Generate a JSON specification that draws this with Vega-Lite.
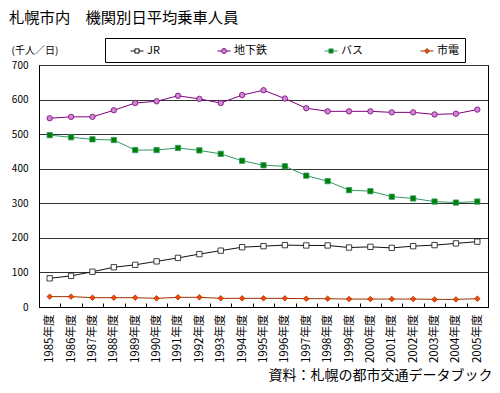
{
  "$schema": "https://vega.github.io/schema/vega-lite/v6.json",
  "width": 449,
  "height": 242,
  "autosize": {"type": "none"},
  "padding": {"left": 39, "top": 65, "right": 12, "bottom": 86},
  "background": "white",
  "title": {
    "text": "札幌市内　機関別日平均乗車人員",
    "anchor": "start",
    "frame": "group",
    "dx": -30,
    "fontSize": 15.3,
    "fontWeight": "normal",
    "font": "Noto Sans CJK JP",
    "color": "black",
    "offset": 11
  },
  "config": {
    "font": "Noto Sans CJK JP",
    "view": {"stroke": "black", "strokeWidth": 1}
  },
  "data": {
    "values": [
      {"year": "1985年度", "series": "JR", "value": 83},
      {"year": "1986年度", "series": "JR", "value": 90},
      {"year": "1987年度", "series": "JR", "value": 102},
      {"year": "1988年度", "series": "JR", "value": 115},
      {"year": "1989年度", "series": "JR", "value": 122},
      {"year": "1990年度", "series": "JR", "value": 132},
      {"year": "1991年度", "series": "JR", "value": 142},
      {"year": "1992年度", "series": "JR", "value": 153},
      {"year": "1993年度", "series": "JR", "value": 163},
      {"year": "1994年度", "series": "JR", "value": 173},
      {"year": "1995年度", "series": "JR", "value": 176},
      {"year": "1996年度", "series": "JR", "value": 179},
      {"year": "1997年度", "series": "JR", "value": 178},
      {"year": "1998年度", "series": "JR", "value": 178},
      {"year": "1999年度", "series": "JR", "value": 172},
      {"year": "2000年度", "series": "JR", "value": 174},
      {"year": "2001年度", "series": "JR", "value": 171},
      {"year": "2002年度", "series": "JR", "value": 176},
      {"year": "2003年度", "series": "JR", "value": 179},
      {"year": "2004年度", "series": "JR", "value": 184},
      {"year": "2005年度", "series": "JR", "value": 189},
      {"year": "1985年度", "series": "地下鉄", "value": 546},
      {"year": "1986年度", "series": "地下鉄", "value": 550},
      {"year": "1987年度", "series": "地下鉄", "value": 550},
      {"year": "1988年度", "series": "地下鉄", "value": 569},
      {"year": "1989年度", "series": "地下鉄", "value": 590},
      {"year": "1990年度", "series": "地下鉄", "value": 595},
      {"year": "1991年度", "series": "地下鉄", "value": 611},
      {"year": "1992年度", "series": "地下鉄", "value": 602},
      {"year": "1993年度", "series": "地下鉄", "value": 590},
      {"year": "1994年度", "series": "地下鉄", "value": 613},
      {"year": "1995年度", "series": "地下鉄", "value": 627},
      {"year": "1996年度", "series": "地下鉄", "value": 603},
      {"year": "1997年度", "series": "地下鉄", "value": 575},
      {"year": "1998年度", "series": "地下鉄", "value": 566},
      {"year": "1999年度", "series": "地下鉄", "value": 566},
      {"year": "2000年度", "series": "地下鉄", "value": 566},
      {"year": "2001年度", "series": "地下鉄", "value": 563},
      {"year": "2002年度", "series": "地下鉄", "value": 563},
      {"year": "2003年度", "series": "地下鉄", "value": 557},
      {"year": "2004年度", "series": "地下鉄", "value": 559},
      {"year": "2005年度", "series": "地下鉄", "value": 571},
      {"year": "1985年度", "series": "バス", "value": 497},
      {"year": "1986年度", "series": "バス", "value": 491},
      {"year": "1987年度", "series": "バス", "value": 485},
      {"year": "1988年度", "series": "バス", "value": 483},
      {"year": "1989年度", "series": "バス", "value": 454},
      {"year": "1990年度", "series": "バス", "value": 454},
      {"year": "1991年度", "series": "バス", "value": 460},
      {"year": "1992年度", "series": "バス", "value": 453},
      {"year": "1993年度", "series": "バス", "value": 443},
      {"year": "1994年度", "series": "バス", "value": 423},
      {"year": "1995年度", "series": "バス", "value": 410},
      {"year": "1996年度", "series": "バス", "value": 407},
      {"year": "1997年度", "series": "バス", "value": 380},
      {"year": "1998年度", "series": "バス", "value": 364},
      {"year": "1999年度", "series": "バス", "value": 338},
      {"year": "2000年度", "series": "バス", "value": 335},
      {"year": "2001年度", "series": "バス", "value": 319},
      {"year": "2002年度", "series": "バス", "value": 314},
      {"year": "2003年度", "series": "バス", "value": 305},
      {"year": "2004年度", "series": "バス", "value": 302},
      {"year": "2005年度", "series": "バス", "value": 305},
      {"year": "1985年度", "series": "市電", "value": 30},
      {"year": "1986年度", "series": "市電", "value": 30},
      {"year": "1987年度", "series": "市電", "value": 27},
      {"year": "1988年度", "series": "市電", "value": 27},
      {"year": "1989年度", "series": "市電", "value": 27},
      {"year": "1990年度", "series": "市電", "value": 25},
      {"year": "1991年度", "series": "市電", "value": 28},
      {"year": "1992年度", "series": "市電", "value": 28},
      {"year": "1993年度", "series": "市電", "value": 25},
      {"year": "1994年度", "series": "市電", "value": 25},
      {"year": "1995年度", "series": "市電", "value": 25},
      {"year": "1996年度", "series": "市電", "value": 25},
      {"year": "1997年度", "series": "市電", "value": 24},
      {"year": "1998年度", "series": "市電", "value": 24},
      {"year": "1999年度", "series": "市電", "value": 23},
      {"year": "2000年度", "series": "市電", "value": 23},
      {"year": "2001年度", "series": "市電", "value": 23},
      {"year": "2002年度", "series": "市電", "value": 23},
      {"year": "2003年度", "series": "市電", "value": 22},
      {"year": "2004年度", "series": "市電", "value": 22},
      {"year": "2005年度", "series": "市電", "value": 24}
    ]
  },
  "encoding": {
    "x": {
      "field": "year",
      "type": "ordinal",
      "scale": {"type": "band", "paddingInner": 0, "paddingOuter": 0},
      "axis": {
        "title": "資料：札幌の都市交通データブック",
        "titleFontSize": 14,
        "titleFontWeight": "normal",
        "titleColor": "black",
        "titleAnchor": null,
        "titleAlign": "right",
        "titleBaseline": "middle",
        "titleX": 453,
        "titleY": 68,
        "tickBand": "extent",
        "tickSize": -4,
        "tickColor": "black",
        "domainColor": "black",
        "labelAngle": 270,
        "labelFontSize": 11.5,
        "labelColor": "black",
        "labelPadding": 11,
        "grid": false
      }
    },
    "y": {
      "field": "value",
      "type": "quantitative",
      "scale": {"domain": [0, 700], "nice": false},
      "axis": {
        "values": [0, 100, 200, 300, 400, 500, 600, 700],
        "title": "(千人／日)",
        "titleAngle": 0,
        "titleX": -28,
        "titleY": -15,
        "titleAlign": "left",
        "titleBaseline": "middle",
        "titleFontSize": 10,
        "titleFontWeight": "normal",
        "titleColor": "black",
        "ticks": false,
        "labelPadding": 11,
        "labelFontSize": 10,
        "labelColor": "black",
        "domainColor": "black",
        "grid": true,
        "gridColor": "#333333",
        "gridWidth": 1
      }
    }
  },
  "layer": [
    {
      "mark": {"type": "line", "strokeWidth": 1},
      "encoding": {
        "stroke": {
          "field": "series",
          "type": "nominal",
          "scale": {
            "domain": ["JR", "地下鉄", "バス", "市電"],
            "range": ["#111111", "#800080", "#339966", "#993300"]
          },
          "legend": {
            "title": "　",
            "titleOrient": "left",
            "titlePadding": 19,
            "titleFontSize": 10,
            "orient": "none",
            "legendX": 66,
            "legendY": -27,
            "direction": "horizontal",
            "columns": 4,
            "columnPadding": 55,
            "padding": 6,
            "strokeColor": "black",
            "fillColor": "white",
            "symbolSize": 169,
            "symbolStrokeWidth": 1,
            "labelFontSize": 11,
            "labelColor": "black",
            "labelOffset": 3,
            "labelExpr": "datum.label == '市電' ? '市電　' : datum.label",
            "encode": {
              "symbols": {
                "update": {
                  "shape": {"signal": "datum.value == 'JR' ? 'M-1,0H-0.32M0.32,0H1M-0.32,-0.32H0.32V0.32H-0.32Z' : datum.value == '地下鉄' ? 'M-1,0H-0.38M0.38,0H1M0.38,0A0.38,0.38,0,1,1,-0.38,0A0.38,0.38,0,1,1,0.38,0Z' : datum.value == 'バス' ? 'M-1,0H-0.32M0.32,0H1M-0.32,-0.32H0.32V0.32H-0.32Z' : 'M-1,0H-0.38M0.38,0H1M0,-0.38L0.38,0L0,0.38L-0.38,0Z'"},
                  "fill": {"signal": "datum.value == 'JR' ? 'white' : datum.value == '地下鉄' ? '#CC88CC' : datum.value == 'バス' ? '#008000' : '#FF4500'"},
                  "stroke": {"scale": "stroke", "field": "value"},
                  "strokeWidth": {"value": 1},
                  "opacity": {"value": 1}
                }
              }
            }
          }
        }
      }
    },
    {
      "mark": {"type": "point", "filled": true, "opacity": 1, "strokeWidth": 0.8},
      "encoding": {
        "shape": {
          "field": "series",
          "type": "nominal",
          "scale": {
            "domain": ["地下鉄", "JR", "バス", "市電"],
            "range": ["circle", "square", "square", "diamond"]
          },
          "legend": null
        },
        "fill": {
          "field": "series",
          "type": "nominal",
          "scale": {
            "domain": ["市電", "バス", "地下鉄", "JR"],
            "range": ["#FF4500", "#008000", "#CC88CC", "white"]
          },
          "legend": null
        },
        "stroke": {
          "field": "series",
          "type": "nominal"
        },
        "size": {
          "field": "series",
          "type": "ordinal",
          "scale": {
            "domain": ["バス", "JR", "地下鉄", "市電"],
            "range": [28, 30, 48, 36]
          },
          "legend": null
        }
      }
    }
  ]
}
